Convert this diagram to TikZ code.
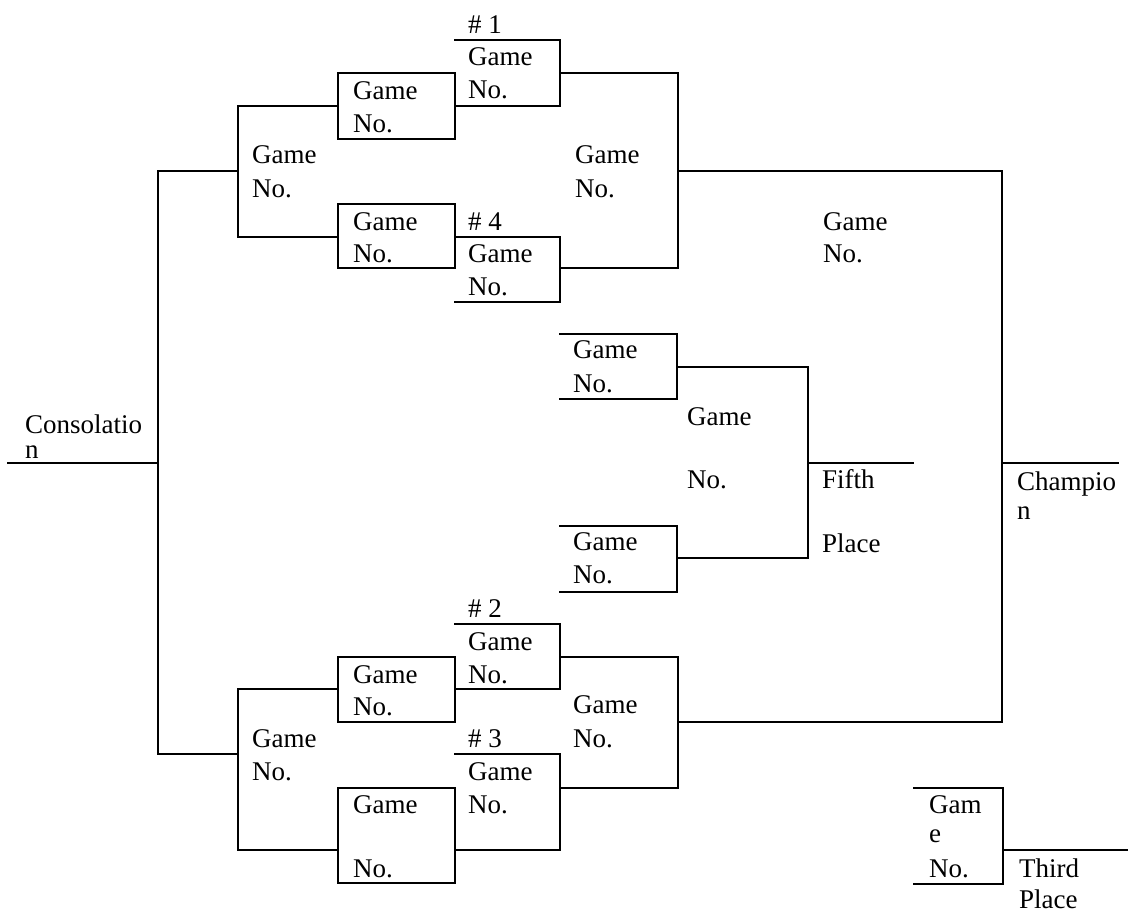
\documentclass[tikz,border=0pt]{standalone}
\usepackage{fontspec}
\setmainfont{Liberation Serif}
\begin{document}
\begin{tikzpicture}[x=1pt,y=-1pt,
  ln/.style={line width=2.4pt, line join=miter, line cap=rect},
  lbl/.style={anchor=base west, inner sep=0pt, font=\fontsize{27}{33}\selectfont}]
\useasboundingbox (0,0) rectangle (1128,914);
% ---- lines ----
\draw[ln] (8,463) -- (158,463);
\draw[ln] (238,171) -- (158,171) -- (158,754) -- (238,754);
% top-left bracket
\draw[ln] (338,106) -- (238,106) -- (238,237) -- (338,237);
\draw[ln] (338,73) rectangle (455,139);
\draw[ln] (338,204) rectangle (455,268);
\draw[ln] (455,40) -- (560,40) -- (560,106) -- (455,106);
\draw[ln] (455,237) -- (560,237) -- (560,302) -- (455,302);
\draw[ln] (560,73) -- (678,73) -- (678,268) -- (560,268);
\draw[ln] (678,171) -- (1002,171) -- (1002,722) -- (678,722);
\draw[ln] (1002,463) -- (1118,463);
% bottom-left bracket
\draw[ln] (338,689) -- (238,689) -- (238,850) -- (338,850);
\draw[ln] (338,657) rectangle (455,722);
\draw[ln] (338,788) rectangle (455,883);
\draw[ln] (455,624) -- (560,624) -- (560,689) -- (455,689);
\draw[ln] (455,754) -- (560,754) -- (560,850) -- (455,850);
\draw[ln] (560,657) -- (678,657) -- (678,788) -- (560,788);
% fifth place
\draw[ln] (560,334) -- (677,334) -- (677,399) -- (560,399);
\draw[ln] (560,526) -- (677,526) -- (677,592) -- (560,592);
\draw[ln] (677,367) -- (808,367) -- (808,558) -- (677,558);
\draw[ln] (808,463) -- (913,463);
% third place
\draw[ln] (914,788) -- (1003,788) -- (1003,884) -- (914,884);
\draw[ln] (1003,850) -- (1128,850);
% ---- labels ----
\node[lbl, text depth=0pt] (c1) at (25,433) {Consolatio};
\node[lbl] (c2) at (25,458) {n};
\node[lbl] (tl1) at (252,163) {Game};
\node[lbl] (tl2) at (252,197) {No.};
\node[lbl] (a1) at (353,99) {Game};
\node[lbl] (a2) at (353,132) {No.};
\node[lbl] (b1) at (353,230) {Game};
\node[lbl] (b2) at (353,262) {No.};
\node[lbl] (h1) at (468,33) {\# 1};
\node[lbl] (h1a) at (468,65) {Game};
\node[lbl] (h1b) at (468,98) {No.};
\node[lbl] (h4) at (468,230) {\# 4};
\node[lbl] (h4a) at (468,262) {Game};
\node[lbl] (h4b) at (468,295) {No.};
\node[lbl] (r2a) at (575,163) {Game};
\node[lbl] (r2b) at (575,197) {No.};
\node[lbl] (fa) at (823,230) {Game};
\node[lbl] (fb) at (823,262) {No.};
\node[lbl] (ch1) at (1017,490) {Champio};
\node[lbl] (ch2) at (1017,519) {n};
\node[lbl] (p1a) at (573,358) {Game};
\node[lbl] (p1b) at (573,392) {No.};
\node[lbl] (p2a) at (573,550) {Game};
\node[lbl] (p2b) at (573,583) {No.};
\node[lbl] (pma) at (687,425) {Game};
\node[lbl] (pmb) at (687,488) {No.};
\node[lbl] (f5a) at (822,488) {Fifth};
\node[lbl] (f5b) at (822,552) {Place};
\node[lbl] (h2) at (468,617) {\# 2};
\node[lbl] (h2a) at (468,650) {Game};
\node[lbl] (h2b) at (468,683) {No.};
\node[lbl] (ca) at (353,683) {Game};
\node[lbl] (cb) at (353,715) {No.};
\node[lbl] (bl1) at (252,747) {Game};
\node[lbl] (bl2) at (252,780) {No.};
\node[lbl] (h3) at (468,747) {\# 3};
\node[lbl] (h3a) at (468,780) {Game};
\node[lbl] (h3b) at (468,813) {No.};
\node[lbl] (da) at (353,813) {Game};
\node[lbl] (db) at (353,877) {No.};
\node[lbl] (r3a) at (573,713) {Game};
\node[lbl] (r3b) at (573,747) {No.};
\node[lbl] (t1) at (929,813) {Gam};
\node[lbl] (t2) at (929,842) {e};
\node[lbl] (t3) at (929,877) {No.};
\node[lbl] (tp1) at (1019,877) {Third};
\node[lbl] (tp2) at (1019,908) {Place};
\end{tikzpicture}
\end{document}
